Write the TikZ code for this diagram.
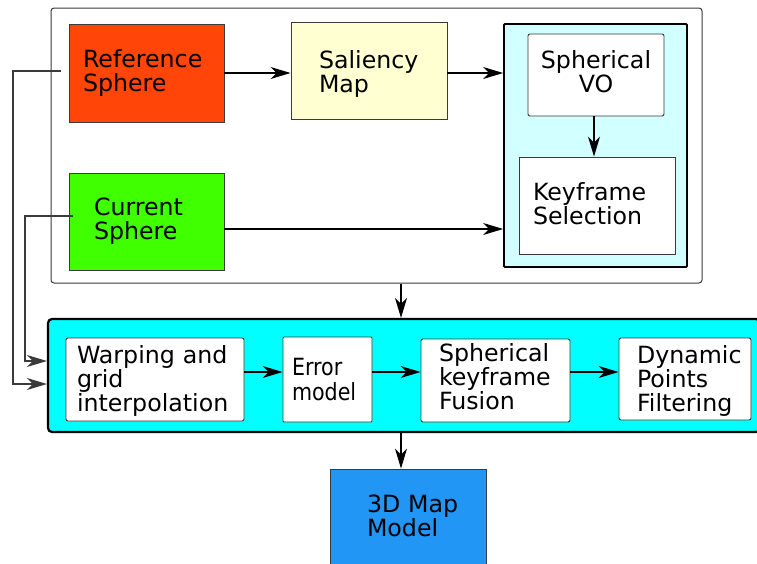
\documentclass[tikz,border=0pt]{standalone}
\usepackage{fontspec}
\setmainfont{DejaVu Sans}
\newfontfamily\condfont[FakeStretch=0.87]{DejaVu Sans}
\usetikzlibrary{arrows.meta,calc}
\definecolor{refc}{HTML}{FF4508}
\definecolor{salc}{HTML}{FFFFD2}
\definecolor{curc}{HTML}{40FF00}
\definecolor{panc}{HTML}{D2FFFF}
\definecolor{botc}{HTML}{00FFFF}
\definecolor{mapc}{HTML}{2196F5}
\definecolor{boxline}{HTML}{3A3A3A}
\hyphenpenalty=10000
\exhyphenpenalty=10000
% shift text block vertically without changing its box
\newcommand\vsh[3]{\raisebox{#1}[\height][\depth]{\parbox{#2}{#3}}}
\begin{document}
\begin{tikzpicture}[x=1pt,y=-1pt,
 every node/.style={font=\fontsize{23.7}{24}\selectfont},
 blk/.style={draw=boxline, line width=0.9pt, inner ysep=0pt, align=left, anchor=center},
 wblk/.style={blk, fill=white, rounded corners=2pt},
 arr/.style={-{Stealth[length=20pt,width=12pt,inset=6pt]}, line width=1.1pt},
 feed/.style={line width=1.1pt, draw=boxline},
]
\useasboundingbox (0,0) rectangle (757,563);
\clip (0,0) rectangle (757,563);
\fill[white] (0,0) rectangle (757,563);

% upper frame
\node[draw=boxline, line width=1pt, rounded corners=3pt, minimum width=651pt, minimum height=275pt, inner sep=0pt] (outer) at (376.5,145.5) {};
\node[draw=black, fill=panc, line width=1.8pt, rounded corners=1pt, minimum width=183pt, minimum height=243pt, inner sep=0pt] (pan) at (595.5,145.5) {};

\node[blk, fill=refc, minimum width=155pt, minimum height=98pt, inner xsep=14pt, text width=127pt] (ref) at (146.5,73) {Reference\\Sphere};
\node[blk, fill=salc, minimum width=156pt, minimum height=97pt, inner xsep=28pt, text width=100pt] (sal) at (369,70.5) {\vsh{-3pt}{100pt}{\raggedright Saliency\\Map}};
\node[blk, fill=curc, minimum width=155pt, minimum height=97pt, inner xsep=25pt, text width=105pt] (cur) at (146.5,221.5) {Current\\Sphere};
\node[wblk, align=center, minimum width=136pt, minimum height=82pt, inner xsep=4pt, text width=128pt] (vo) at (596,75) {\vsh{3pt}{128pt}{\centering Spherical\\VO}};
\node[wblk, rounded corners=0pt, minimum width=156pt, minimum height=97pt, inner xsep=14pt, text width=128pt] (ks) at (597,205.5) {\vsh{2pt}{128pt}{\raggedright Keyframe\\Selection}};

% lower panel
\node[draw=black, fill=botc, line width=2.2pt, rounded corners=4pt, minimum width=712pt, minimum height=113pt, inner sep=0pt] (bot) at (404,375.5) {};
\node[wblk, minimum width=178pt, minimum height=83pt, inner xsep=11pt, text width=156pt] (warp) at (155,379.5) {\vsh{-1.5pt}{156pt}{\raggedright Warping and\\grid\\interpolation}};
\node[wblk, rounded corners=1pt, minimum width=89pt, minimum height=85pt, inner xsep=9pt, text width=71pt, font=\condfont\fontsize{23.7}{25}\selectfont] (err) at (327.5,379.5) {Error\\model};
\node[wblk, minimum width=149pt, minimum height=83pt, inner xsep=18pt, text width=113pt] (fus) at (495.5,380.5) {\vsh{4pt}{113pt}{\raggedright Spherical\\keyframe\\Fusion}};
\node[wblk, minimum width=132pt, minimum height=82pt, inner xsep=18pt, text width=96pt] (dyn) at (685,379) {\vsh{-2pt}{110pt}{\raggedright Dynamic\\Points\\Filtering}};

\node[blk, fill=mapc, minimum width=156pt, minimum height=96pt, inner xsep=37pt, text width=82pt] (map) at (408,517) {\vsh{1.5pt}{100pt}{\raggedright 3D Map\\Model}};

\coordinate (vx) at (401,0);

% connectors
\draw[arr] (ref.east) -- (ref.east -| sal.west);
\draw[arr] (ref.east -| sal.east) -- (ref.east -| pan.west);
\draw[arr] (vo.south -| 594,0) -- (ks.north -| 594,0);
\draw[arr] ($(cur.east)+(0,7.5)$) -- ($(cur.east -| pan.west)+(0,7.5)$);
\draw[arr] (outer.south -| vx) -- (bot.north -| vx);
\draw[arr] (bot.south -| vx) -- (map.north -| vx);
\draw[arr] (warp.east |- 0,372) -- (err.west |- 0,372);
\draw[arr] (err.east |- 0,372) -- (fus.west |- 0,372);
\draw[arr] (fus.east |- 0,372) -- (dyn.west |- 0,372);

% feeds from the spheres
\draw[feed, arr] ($(ref.west)+(-8,-2)$) -- (13,71) -- (13,384) -- (bot.west |- 0,384);
\draw[feed, arr] ($(cur.west)+(4,-5.5)$) -- (25,216) -- (25,361) -- (bot.west |- 0,361);
\end{tikzpicture}
\end{document}
